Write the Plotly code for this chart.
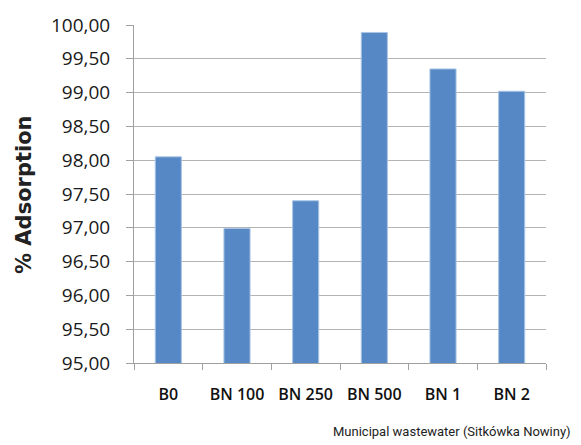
import plotly.graph_objects as go

categories = ["B0", "BN 100", "BN 250", "BN 500", "BN 1", "BN 2"]
adsorption = [98.05, 96.99, 97.40, 99.89, 99.35, 99.02]
y_ticks = [95.0, 95.5, 96.0, 96.5, 97.0, 97.5, 98.0, 98.5, 99.0, 99.5, 100.0]
y_tick_labels = [f"{v:.2f}".replace(".", ",") for v in y_ticks]

fig = go.Figure()
fig.add_trace(go.Bar(
    x=categories, y=adsorption,
    marker=dict(color="#5688C5", line=dict(color="#A9C4E4", width=1)),
    width=0.38,
))

fig.update_layout(
    width=581, height=445,
    margin=dict(l=134, r=35, t=22, b=82),
    plot_bgcolor="white", paper_bgcolor="white",
    showlegend=False,
    font=dict(family="Open Sans", color="#111111"),
    annotations=[
        dict(text="Municipal wastewater (Sitkówka Nowiny)", xref="paper", yref="paper",
             x=1.0655, y=-0.202, xanchor="right", yanchor="middle", showarrow=False,
             font=dict(family="Liberation Sans Narrow, Roboto", size=13, color="#222222")),
        dict(text="<b>% Adsorption</b>", xref="paper", yref="paper",
             x=-0.267, y=0.50, xanchor="center", yanchor="middle", showarrow=False,
             textangle=-90,
             font=dict(family="DejaVu Sans", size=21, color="#222222")),
    ],
)

fig.update_xaxes(
    showline=True, linecolor="#a0a0a0", linewidth=1,
    ticks="outside", ticklen=6, tickcolor="#a0a0a0",
    tickson="boundaries",
    ticklabelstandoff=17,
    tickfont=dict(family="Open Sans", size=16, color="#111111", weight=600),
    showgrid=False,
)
fig.update_yaxes(
    range=[95, 100], tickvals=y_ticks, ticktext=y_tick_labels,
    showline=True, linecolor="#a0a0a0", linewidth=1,
    ticks="outside", ticklen=7, tickcolor="#a0a0a0",
    ticklabelstandoff=12,
    showgrid=True, gridcolor="#b4b4b4", gridwidth=1,
    tickfont=dict(family="Open Sans", size=19, color="#1a1a1a", weight=400),
    zeroline=False,
)

fig.write_html("out.html", config={"displayModeBar": False},
               post_script="document.body.style.margin='0';")
